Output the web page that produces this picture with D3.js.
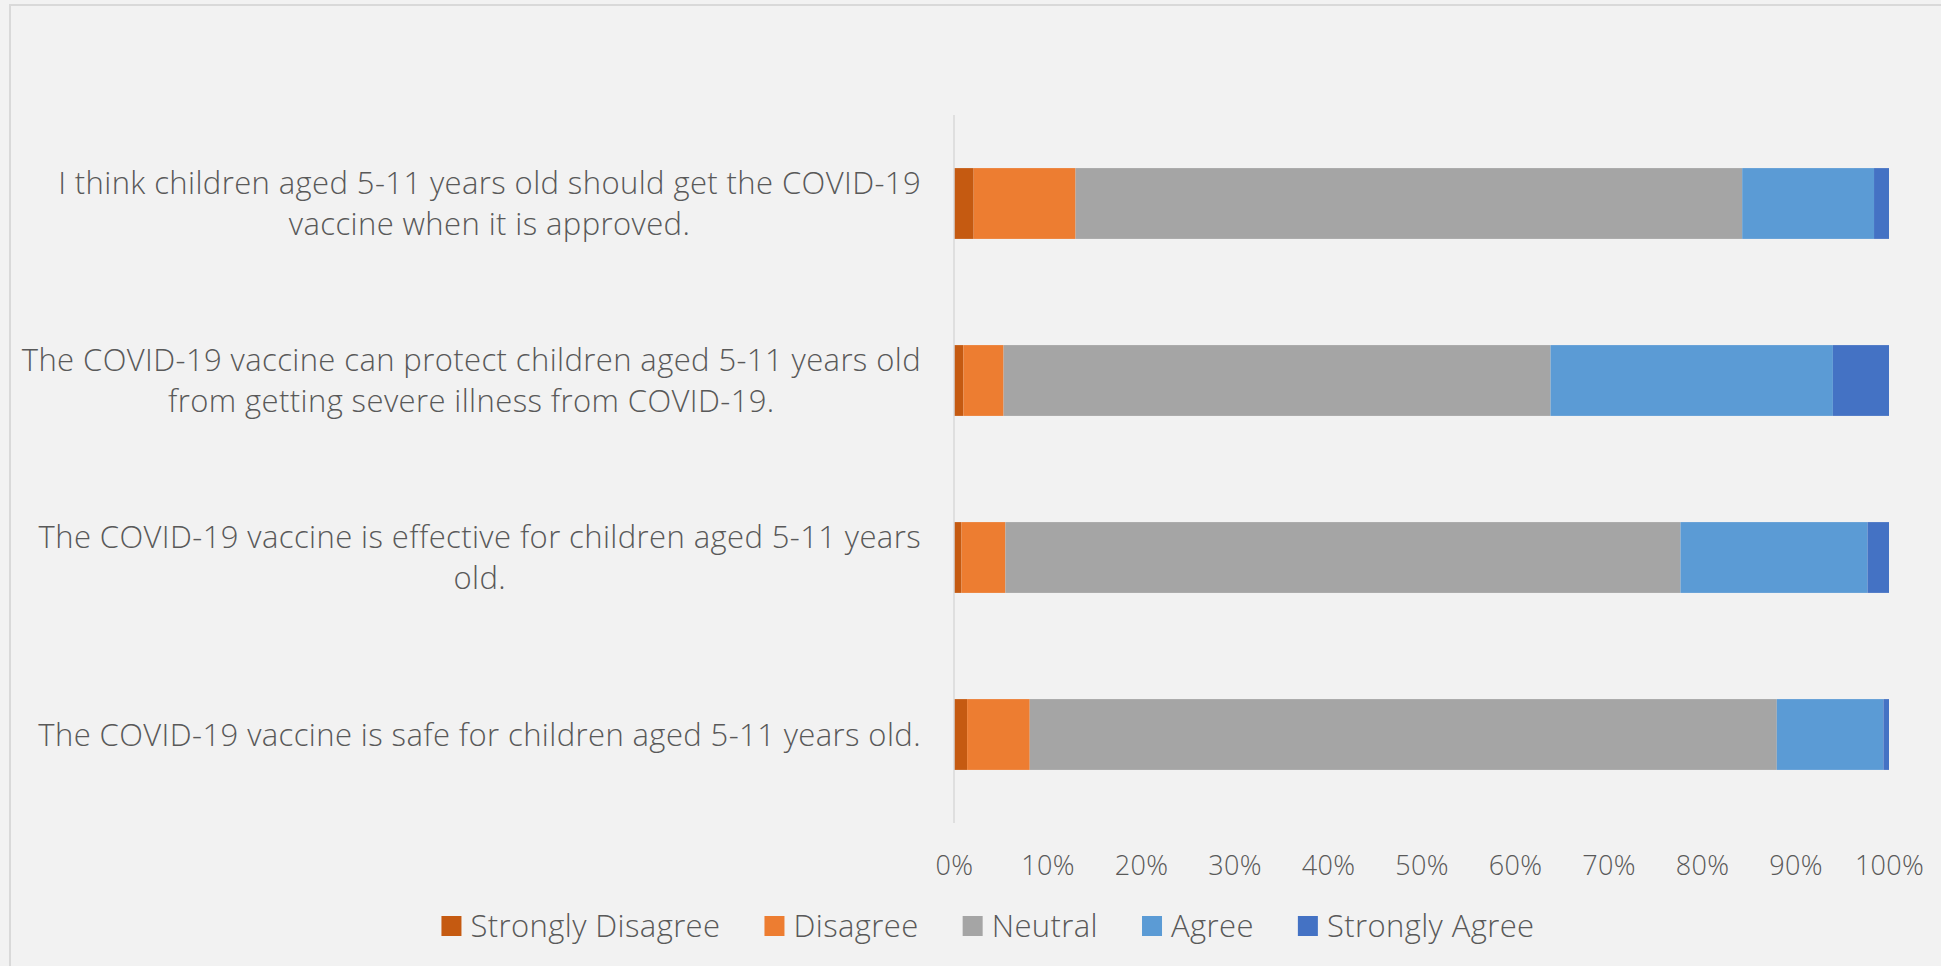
<!DOCTYPE html>
<html>
<head>
<meta charset="utf-8">
<script src="https://cdn.jsdelivr.net/npm/d3@7"></script>
<style>
  html, body { margin: 0; padding: 0; background: #f2f2f2; }
  svg { display: block; }
  text { font-family: "Open Sans", "Lato", sans-serif; font-weight: 300; fill: #595959; }
</style>
</head>
<body>
<svg id="svg"></svg>
<script>
const svgWidth = 1941;
const svgHeight = 966;

// categories, top to bottom (each entry is the wrapped lines of the label)
const categories = [
  ["I think children aged 5-11 years old should get the COVID-19", "vaccine when it is approved."],
  ["The COVID-19 vaccine can protect children aged 5-11 years old", "from getting severe illness from COVID-19."],
  ["The COVID-19 vaccine is effective for children aged 5-11 years", "old."],
  ["The COVID-19 vaccine is safe for children aged 5-11 years old."]
];

const seriesNames = ["Strongly Disagree", "Disagree", "Neutral", "Agree", "Strongly Agree"];
const seriesColors = ["#c55a11", "#ed7d31", "#a5a5a5", "#5b9bd5", "#4472c4"];

// percentages per category, same order as categories
const stronglyDisagree = [2.1, 1.0, 0.8, 1.4];
const disagree = [10.9, 4.3, 4.7, 6.7];
const neutral = [71.3, 58.5, 72.2, 79.9];
const agree = [14.1, 30.2, 20.0, 11.4];
const stronglyAgree = [1.6, 6.0, 2.3, 0.6];

const tickValues = [0, 0.1, 0.2, 0.3, 0.4, 0.5, 0.6, 0.7, 0.8, 0.9, 1];

let svg = d3.select("#svg");
let xScale, yScale;

function initializeSVG() {
  svg.attr("width", svgWidth).attr("height", svgHeight);
  svg.selectAll("*").remove();

  svg.append("rect")
    .attr("x", 0).attr("y", 0)
    .attr("width", svgWidth).attr("height", svgHeight)
    .attr("fill", "#f2f2f2");

  // chart frame (right and bottom edges fall outside the picture)
  svg.append("rect")
    .attr("x", 10).attr("y", 5)
    .attr("width", svgWidth + 10).attr("height", svgHeight + 10)
    .attr("fill", "none")
    .attr("stroke", "#d9d9d9")
    .attr("stroke-width", 2);

  xScale = d3.scaleLinear().domain([0, 1]).range([954, 1889]);
  yScale = d3.scaleBand()
    .domain(d3.range(categories.length))
    .range([115, 823])
    .paddingInner(0.6)
    .paddingOuter(0.3);
}

function makeChart() {
  const rows = categories.map((c, i) => {
    const row = { index: i };
    row[seriesNames[0]] = stronglyDisagree[i] / 100;
    row[seriesNames[1]] = disagree[i] / 100;
    row[seriesNames[2]] = neutral[i] / 100;
    row[seriesNames[3]] = agree[i] / 100;
    row[seriesNames[4]] = stronglyAgree[i] / 100;
    return row;
  });

  const stack = d3.stack().keys(seriesNames);
  const series = stack(rows);

  svg.append("g")
    .selectAll("g")
    .data(series)
    .join("g")
    .attr("fill", (d, i) => seriesColors[i])
    .selectAll("rect")
    .data(d => d)
    .join("rect")
    .attr("x", d => xScale(d[0]))
    .attr("width", d => xScale(d[1]) - xScale(d[0]))
    .attr("y", d => yScale(d.data.index))
    .attr("height", yScale.bandwidth());

  // vertical category axis line
  svg.append("line")
    .attr("x1", xScale(0)).attr("x2", xScale(0))
    .attr("y1", yScale.range()[0]).attr("y2", yScale.range()[1])
    .attr("stroke", "#d9d9d9")
    .attr("stroke-width", 1.5);

  // percentage axis
  const xAxis = d3.axisBottom(xScale)
    .tickValues(tickValues)
    .tickFormat(d3.format(".0%"))
    .tickSize(0)
    .tickPadding(33);

  const gx = svg.append("g")
    .attr("transform", `translate(0,${yScale.range()[1]})`)
    .call(xAxis);
  gx.select(".domain").remove();
  gx.selectAll("text")
    .style("font-family", '"Open Sans", "Lato", sans-serif')
    .style("font-weight", 300)
    .style("font-size", "27px")
    .style("letter-spacing", "0.3px")
    .attr("fill", "#595959");

  // category labels: block right-aligned, lines centred within the block
  const lineHeight = 41;
  const labelRight = 921;
  const labels = svg.append("g")
    .style("font-size", "31px")
    .style("letter-spacing", "0.4px");
  categories.forEach((lines, i) => {
    const t = labels.append("text").attr("text-anchor", "middle");
    const cy = yScale(i) + yScale.bandwidth() / 2;
    lines.forEach((line, j) => {
      t.append("tspan")
        .attr("y", cy + (j - (lines.length - 1) / 2) * lineHeight + 11)
        .text(line);
    });
    let maxW = 0;
    t.selectAll("tspan").each(function () {
      maxW = Math.max(maxW, this.getComputedTextLength());
    });
    t.selectAll("tspan").attr("x", labelRight - maxW / 2);
  });

  makeLegend();
}

function makeLegend() {
  const fontSize = 31;
  const box = 20;
  const gap = 9;
  const itemGap = 44;
  const legend = svg.append("g")
    .style("font-size", `${fontSize}px`)
    .style("letter-spacing", "0.4px");

  const items = legend.selectAll("g")
    .data(seriesNames)
    .join("g");

  items.append("rect")
    .attr("width", box).attr("height", box)
    .attr("y", -box / 2)
    .attr("fill", (d, i) => seriesColors[i]);

  items.append("text")
    .attr("x", box + gap)
    .attr("y", 11)
    .text(d => d);

  let x = 0;
  const offsets = [];
  items.each(function () {
    const w = box + gap + d3.select(this).select("text").node().getComputedTextLength();
    offsets.push(x);
    x += w + itemGap;
  });
  const total = x - itemGap;
  const start = 988 - total / 2;
  items.attr("transform", (d, i) => `translate(${start + offsets[i]},926)`);
}

function initialize() {
  initializeSVG();
  makeChart();
}

initialize();
</script>
</body>
</html>
